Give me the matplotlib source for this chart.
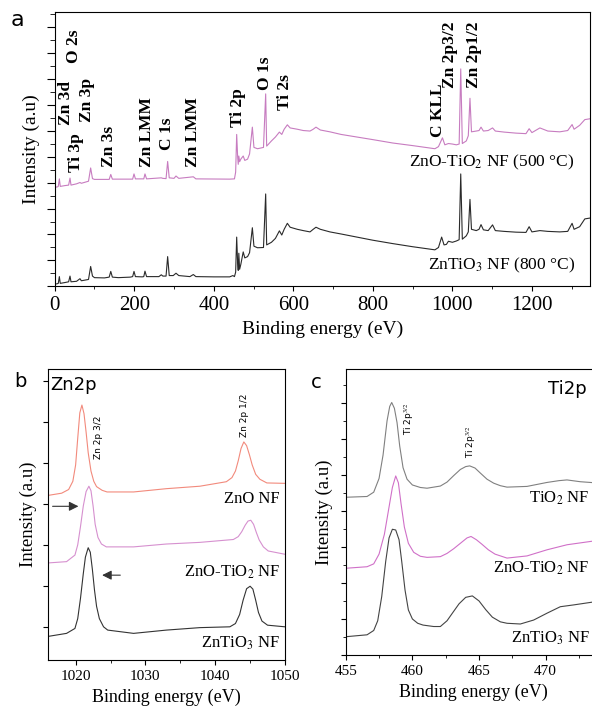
import matplotlib
matplotlib.use('Agg')
import matplotlib.pyplot as plt
from matplotlib.ticker import MultipleLocator

plt.rcParams['font.family'] = 'Liberation Serif'
plt.rcParams['mathtext.fontset'] = 'stix'

# ---- panel a : survey spectra (eV, intensity) ----
survey_800_ev = [1, 5, 9, 11.7, 14, 25, 35, 38.5, 41, 55, 63.6, 67, 85, 90.4, 95, 100, 125, 137, 141, 145,
                 160, 190, 196, 199.4, 203, 220, 224, 227, 231, 262, 268, 272, 280, 284, 288, 298, 305, 312,
                 340, 348.6, 355, 400, 440, 448, 452, 455, 457.6, 460, 461.5, 463, 465, 468, 474, 478, 485,
                 490, 497, 501, 510, 525, 530.5, 533, 545, 555, 565, 571, 577, 585, 592, 610, 625, 642, 650,
                 657, 668, 692, 720, 760, 800, 850, 900, 956, 965, 973, 979, 985, 990, 1000, 1010, 1017,
                 1021, 1025, 1035, 1040, 1044.2, 1048, 1060, 1067, 1072, 1078, 1090, 1101, 1108, 1130, 1160,
                 1185, 1193, 1200, 1220, 1240, 1270, 1290, 1301, 1306, 1320, 1333, 1345]
survey_800_i = [0.10, 0.10, 0.12, 0.38, 0.12, 0.15, 0.18, 0.40, 0.18, 0.20, 0.30, 0.22, 0.27, 0.77, 0.40, 0.34,
                0.33, 0.36, 0.58, 0.36, 0.34, 0.36, 0.38, 0.58, 0.38, 0.37, 0.38, 0.59, 0.38, 0.38, 0.45, 0.40,
                0.40, 1.15, 0.42, 0.42, 0.51, 0.42, 0.38, 0.46, 0.38, 0.37, 0.37, 0.42, 0.38, 0.55, 1.90, 0.90,
                0.62, 1.28, 0.66, 0.85, 1.33, 1.10, 1.15, 1.30, 2.26, 1.55, 1.49, 1.50, 3.56, 1.60, 1.70, 1.85,
                2.14, 1.98, 2.20, 2.43, 2.28, 2.20, 2.15, 2.10, 2.20, 2.28, 2.20, 2.10, 2.02, 1.90, 1.78, 1.65,
                1.53, 1.41, 1.50, 1.90, 1.60, 1.62, 1.74, 1.70, 1.75, 1.80, 4.33, 1.82, 1.95, 2.10, 3.35, 2.20,
                2.15, 2.20, 2.38, 2.18, 2.15, 2.37, 2.15, 2.12, 2.09, 2.08, 2.30, 2.10, 2.15, 2.12, 2.10, 2.12,
                2.43, 2.20, 2.30, 2.60, 2.63]

survey_500_ev = [0.3, 1.5, 5, 9, 11.7, 14, 25, 35, 38.5, 41, 55, 63.6, 67, 85, 90.4, 95, 100, 137, 141, 145,
                 196, 199.4, 203, 224, 227, 231, 268, 272, 280, 284, 288, 300, 305, 312, 348.6, 355, 440, 452,
                 455, 457.6, 460, 461.5, 463, 465, 468, 474, 478, 485, 490, 497, 501, 510, 525, 530.5, 533,
                 545, 555, 565, 571, 577, 585, 592, 610, 625, 642, 650, 657, 668, 692, 720, 760, 800, 850,
                 900, 956, 965, 975, 981, 990, 1000, 1010, 1017, 1021, 1025, 1035, 1040, 1044.2, 1048, 1060,
                 1067, 1072, 1078, 1090, 1101, 1108, 1130, 1160, 1185, 1193, 1200, 1220, 1240, 1270, 1290,
                 1301, 1306, 1320, 1333, 1345]
survey_500_i = [9.60, 3.85, 3.82, 3.85, 4.14, 3.85, 3.88, 3.90, 4.17, 3.90, 3.95, 4.00, 3.97, 4.05, 4.56, 4.15,
                4.12, 4.12, 4.31, 4.13, 4.13, 4.33, 4.14, 4.14, 4.33, 4.14, 4.18, 4.16, 4.15, 4.81, 4.18, 4.16,
                4.25, 4.16, 4.22, 4.14, 4.13, 4.14, 4.40, 5.85, 5.00, 4.70, 5.02, 4.80, 4.90, 5.02, 4.85, 4.90,
                5.10, 6.13, 5.35, 5.30, 5.35, 7.41, 5.40, 5.60, 5.75, 5.94, 5.85, 6.05, 6.22, 6.10, 6.05, 6.00,
                5.98, 6.05, 6.13, 6.02, 5.95, 5.85, 5.75, 5.65, 5.52, 5.42, 5.30, 5.38, 5.72, 5.45, 5.50, 5.48,
                5.45, 5.48, 8.37, 5.50, 5.60, 5.80, 7.24, 5.95, 5.98, 6.00, 6.13, 5.98, 6.00, 6.10, 5.98, 5.94,
                5.90, 5.88, 6.07, 5.92, 6.10, 5.98, 5.95, 6.00, 6.23, 6.05, 6.20, 6.42, 6.45]

peak_names = ['Ti 3p', 'Zn 3d', 'O 2s', 'Zn 3p', 'Zn 3s', 'Zn LMM', 'C 1s', 'Zn LMM', 'Ti 2p', 'O 1s',
              'Ti 2s', 'C KLL', 'Zn 2p3/2', 'Zn 2p1/2']
peak_label_ev = [52.8, 27.6, 48.5, 82, 136.5, 231, 281.6, 348.6, 461.7, 528.8, 579, 964.6, 994, 1054]
peak_label_y = [4.40, 6.21, 8.60, 6.33, 4.60, 4.60, 5.25, 4.60, 6.13, 7.56, 6.79, 5.75, 7.63, 7.63]

# ---- panel b : Zn 2p ----
zn_ev_zno = [1016.2, 1018.0, 1019.0, 1019.6, 1020.0, 1020.3, 1020.6, 1020.9, 1021.2, 1021.5, 1021.8, 1022.2,
             1022.6, 1023.0, 1023.8, 1024.5, 1028.3, 1033.0, 1037.8, 1041.6, 1042.4, 1042.9, 1043.3, 1043.7,
             1044.1, 1044.5, 1044.9, 1045.3, 1045.8, 1046.4, 1047.4, 1050]
zn_i_zno = [3.21, 3.26, 3.35, 3.55, 3.95, 4.60, 5.22, 5.41, 5.20, 4.75, 4.25, 3.80, 3.55, 3.42, 3.33, 3.29,
            3.29, 3.37, 3.43, 3.54, 3.64, 3.80, 4.05, 4.35, 4.51, 4.42, 4.20, 3.95, 3.72, 3.60, 3.51, 3.50]
zn_ev_mix = [1016.2, 1018.7, 1019.9, 1020.3, 1020.7, 1021.1, 1021.5, 1021.9, 1022.2, 1022.5, 1022.8, 1023.2,
             1023.7, 1024.4, 1028.3, 1033.0, 1037.8, 1042.6, 1043.3, 1043.8, 1044.3, 1044.7, 1045.1, 1045.5,
             1045.9, 1046.3, 1046.9, 1047.6, 1050]
zn_i_mix = [1.56, 1.59, 1.75, 2.00, 2.45, 2.95, 3.30, 3.43, 3.32, 2.95, 2.50, 2.18, 2.02, 1.95, 1.95, 2.02,
            2.06, 2.13, 2.20, 2.32, 2.48, 2.58, 2.60, 2.50, 2.30, 2.12, 1.95, 1.85, 1.77]
zn_ev_znti = [1016.2, 1018.7, 1019.9, 1020.3, 1020.7, 1021.1, 1021.4, 1021.8, 1022.1, 1022.4, 1022.7, 1023.0,
              1023.4, 1024.0, 1024.6, 1028.3, 1033.0, 1037.8, 1042.1, 1042.9, 1043.5, 1044.0, 1044.5, 1045.0,
              1045.4, 1045.8, 1046.2, 1046.7, 1047.5, 1050]
zn_i_znti = [-0.23, -0.16, -0.04, 0.20, 0.70, 1.30, 1.70, 1.93, 1.82, 1.40, 0.90, 0.50, 0.20, 0.00, -0.08,
             -0.16, -0.08, -0.02, 0.00, 0.08, 0.30, 0.65, 0.93, 0.99, 0.92, 0.65, 0.35, 0.14, 0.04, 0.00]

# ---- panel c : Ti 2p ----
ti_ev_tio2 = [455.1, 456.6, 457.1, 457.5, 457.8, 458.1, 458.3, 458.45, 458.65, 458.85, 459.05, 459.3, 459.6,
              460.0, 460.6, 461.1, 462.1, 462.6, 463.1, 463.6, 464.0, 464.3, 464.7, 465.1, 465.6, 466.1,
              466.6, 467.1, 468.6, 470.1, 471.0, 471.6, 472.6, 474.1]
ti_i_tio2 = [4.38, 4.40, 4.52, 4.90, 5.55, 6.50, 6.90, 7.01, 6.85, 6.45, 5.80, 5.20, 4.88, 4.72, 4.65, 4.63,
             4.69, 4.80, 4.98, 5.15, 5.23, 5.25, 5.19, 5.05, 4.88, 4.77, 4.70, 4.66, 4.68, 4.79, 4.84, 4.86,
             4.81, 4.77]
ti_ev_mix = [455.1, 456.6, 457.1, 457.5, 457.9, 458.2, 458.5, 458.75, 458.95, 459.15, 459.4, 459.7, 460.1,
             460.6, 461.1, 462.1, 462.6, 463.1, 463.6, 464.1, 464.4, 464.8, 465.2, 465.7, 466.2, 467.1,
             468.6, 470.1, 471.6, 474.1]
ti_i_mix = [2.41, 2.45, 2.53, 2.80, 3.35, 4.00, 4.65, 4.97, 4.78, 4.20, 3.55, 3.10, 2.85, 2.74, 2.71, 2.73,
            2.82, 2.95, 3.10, 3.25, 3.29, 3.20, 3.08, 2.92, 2.80, 2.69, 2.75, 2.92, 3.06, 3.19]
ti_ev_znti = [455.1, 456.6, 457.1, 457.4, 457.7, 458.0, 458.25, 458.5, 458.75, 459.0, 459.2, 459.45, 459.7,
              460.0, 460.4, 460.8, 461.6, 462.1, 462.6, 463.0, 463.5, 464.0, 464.5, 465.0, 465.5, 466.0,
              466.6, 467.1, 468.1, 469.1, 470.1, 471.1, 472.1, 474.1]
ti_i_znti = [0.51, 0.56, 0.68, 0.95, 1.62, 2.60, 3.25, 3.49, 3.47, 3.20, 2.60, 1.80, 1.25, 1.00, 0.88, 0.83,
             0.79, 0.79, 0.95, 1.16, 1.42, 1.60, 1.64, 1.50, 1.26, 1.05, 0.92, 0.88, 0.86, 0.97, 1.16, 1.34,
             1.39, 1.50]

PINK = '#c77cc0'
DARK = '#2a2a2a'

fig = plt.figure(figsize=(5.92, 7.10), dpi=100)
ax_a = fig.add_axes([0.0924, 0.5965, 0.9042, 0.3866])
ax_b = fig.add_axes([0.0806, 0.0704, 0.4008, 0.4099])
ax_c = fig.add_axes([0.584, 0.0775, 0.4296, 0.4028])

# panel a
ax_a.plot(survey_800_ev, survey_800_i, color=DARK, lw=0.8)
ax_a.plot(survey_500_ev, survey_500_i, color=PINK, lw=0.8)
ax_a.set_xlim(0, 1346)
ax_a.set_ylim(0, 10.56)
ax_a.xaxis.set_major_locator(MultipleLocator(200))
ax_a.xaxis.set_minor_locator(MultipleLocator(100))
ax_a.yaxis.set_major_locator(MultipleLocator(1))
ax_a.yaxis.set_minor_locator(MultipleLocator(0.5))
ax_a.tick_params(axis='both', which='both', direction='out')
ax_a.tick_params(axis='x', labelsize=15)
ax_a.tick_params(axis='y', labelleft=False, length=6)
ax_a.tick_params(axis='y', which='minor', length=3.5)
ax_a.set_xlabel('Binding energy (eV)', fontsize=14)
ax_a.set_ylabel('Intensity (a.u)', fontsize=14)
for name, xe, ye in zip(peak_names, peak_label_ev, peak_label_y):
    ax_a.text(xe, ye, name, rotation=90, ha='center', va='bottom', fontsize=12.5, fontweight='bold')
ax_a.text(1308, 4.76, 'ZnO-TiO$_2$ NF (500 °C)', ha='right', va='center', fontsize=12.5)
ax_a.text(1308, 0.83, 'ZnTiO$_3$ NF (800 °C)', ha='right', va='center', fontsize=12.5)
fig.text(0.029, 0.972, 'a', family='DejaVu Sans', fontsize=16, ha='center', va='center')

# panel b
ax_b.plot(zn_ev_zno, zn_i_zno, color='#f28a7c', lw=0.8)
ax_b.plot(zn_ev_mix, zn_i_mix, color='#d690cf', lw=0.8)
ax_b.plot(zn_ev_znti, zn_i_znti, color='#333333', lw=0.8)
ax_b.set_xlim(1016, 1050)
ax_b.set_ylim(-0.81, 6.29)
ax_b.xaxis.set_major_locator(MultipleLocator(10))
ax_b.xaxis.set_minor_locator(MultipleLocator(5))
ax_b.yaxis.set_major_locator(MultipleLocator(1))
ax_b.tick_params(axis='both', which='both', direction='out')
ax_b.tick_params(axis='x', labelsize=11)
ax_b.tick_params(axis='y', labelleft=False)
ax_b.set_xlabel('Binding energy (eV)', fontsize=13)
ax_b.set_ylabel('Intensity (a.u)', fontsize=13.5)
ax_b.text(1023.3, 4.63, 'Zn 2p 3/2', rotation=90, ha='center', va='center', fontsize=6.5,
          family='DejaVu Sans')
ax_b.text(1044.2, 5.16, 'Zn 2p 1/2', rotation=90, ha='center', va='center', fontsize=6.5,
          family='DejaVu Sans')
ax_b.text(1049.3, 3.13, 'ZnO NF', ha='right', va='center', fontsize=12)
ax_b.text(1049.3, 1.32, 'ZnO-TiO$_2$ NF', ha='right', va='center', fontsize=12)
ax_b.text(1049.3, -0.41, 'ZnTiO$_3$ NF', ha='right', va='center', fontsize=12)
ax_b.text(1016.3, 5.9, 'Zn2p', ha='left', va='center', fontsize=13, family='DejaVu Sans')
ax_b.annotate('', xy=(1020.8, 2.94), xytext=(1016.3, 2.94),
              arrowprops=dict(arrowstyle='-|>', color='#333333', lw=0.8, mutation_scale=14))
ax_b.annotate('', xy=(1023.4, 1.26), xytext=(1026.8, 1.26),
              arrowprops=dict(arrowstyle='-|>', color='#333333', lw=0.8, mutation_scale=14))
fig.text(0.035, 0.463, 'b', family='DejaVu Sans', fontsize=14, ha='center', va='center')

# panel c
ax_c.plot(ti_ev_tio2, ti_i_tio2, color='#808080', lw=0.8)
ax_c.plot(ti_ev_mix, ti_i_mix, color='#d070c8', lw=0.8)
ax_c.plot(ti_ev_znti, ti_i_znti, color='#444444', lw=0.8)
ax_c.set_xlim(455, 474.08)
ax_c.set_ylim(0, 7.94)
ax_c.xaxis.set_major_locator(MultipleLocator(5))
ax_c.xaxis.set_minor_locator(MultipleLocator(2.5))
ax_c.yaxis.set_major_locator(MultipleLocator(1))
ax_c.yaxis.set_minor_locator(MultipleLocator(0.5))
ax_c.tick_params(axis='both', which='both', direction='out')
ax_c.tick_params(axis='x', labelsize=11)
ax_c.tick_params(axis='y', labelleft=False)
ax_c.tick_params(axis='y', which='minor', length=2)
ax_c.set_xlabel('Binding energy (eV)', fontsize=13)
ax_c.set_ylabel('Intensity (a.u)', fontsize=13.5)
ax_c.text(459.8, 6.11, 'Ti 2p$^{3/2}$', rotation=90, ha='center', va='bottom', fontsize=6.5,
          family='DejaVu Sans')
ax_c.text(464.4, 5.47, 'Ti 2p$^{3/2}$', rotation=90, ha='center', va='bottom', fontsize=6.5,
          family='DejaVu Sans')
ax_c.text(473.3, 4.36, 'TiO$_2$ NF', ha='right', va='center', fontsize=12)
ax_c.text(473.3, 2.41, 'ZnO-TiO$_2$ NF', ha='right', va='center', fontsize=12)
ax_c.text(473.3, 0.47, 'ZnTiO$_3$ NF', ha='right', va='center', fontsize=12)
ax_c.text(473.1, 7.39, 'Ti2p', ha='right', va='center', fontsize=13, family='DejaVu Sans')
fig.text(0.535, 0.4606, 'c', family='DejaVu Sans', fontsize=14, ha='center', va='center')

fig.savefig('out.png', dpi=100)
